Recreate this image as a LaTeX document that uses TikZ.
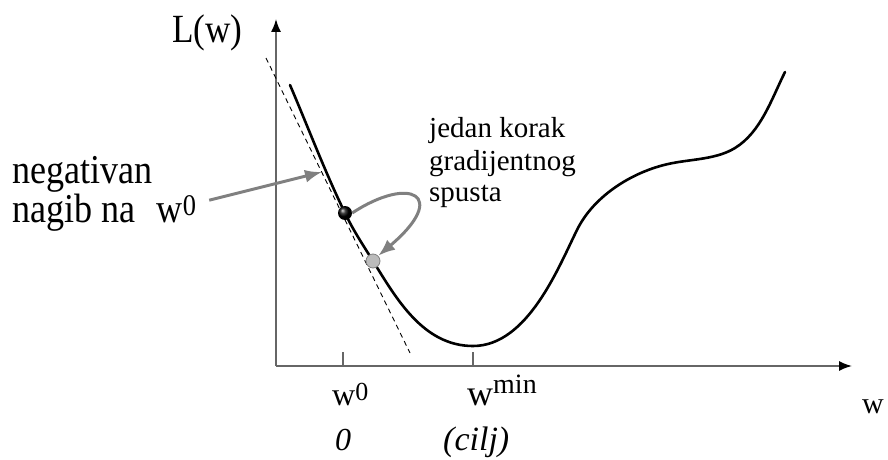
\documentclass[tikz,border=0pt]{standalone}
\usepackage{fontspec}
\setmainfont{Liberation Serif}
\newfontfamily\narrowserif{Liberation Serif}[FakeStretch=0.88]
\usepackage{xcolor}
\definecolor{gdaxis}{HTML}{666666}
\definecolor{gdarrow}{HTML}{808080}
\definecolor{gdstep}{HTML}{BBBBBB}
\usepackage{tikz}
\usetikzlibrary{arrows.meta,positioning,calc,shadings}
\tikzset{
  gdaxisline/.style={draw=gdaxis,line width=1.6pt,-{Latex[length=13pt,width=10pt,color=black]}},
  gdtick/.style={draw=gdaxis,line width=1.4pt},
  gdcurve/.style={line width=2.6pt,line cap=round},
  gdtangent/.style={line width=0.9pt,dash pattern=on 5pt off 4pt},
  gdpointer/.style={draw=gdarrow,line width=3pt,-{Latex[length=17pt,width=13pt]}},
  gdtext/.style={inner sep=0pt,anchor=base west},
  gdbig/.style={gdtext,font=\narrowserif\fontsize{41pt}{41pt}\selectfont},
  gdnote/.style={gdtext,font=\fontsize{29pt}{31pt}\selectfont},
}
\newcommand{\gdsup}[3]{\raisebox{#1}{\fontsize{#2}{#2}\selectfont #3}}

\begin{document}
\begin{tikzpicture}[x=1pt,y=-1pt]
\useasboundingbox (0,0) rectangle (888,460);
% axes
\coordinate (orig) at (276,366);
\coordinate (ytop) at (276,19);
\coordinate (xend) at (852,366);
\coordinate (t0) at (343,366);
\coordinate (tmin) at (473,366);
\draw[gdaxisline] (orig) -- (ytop);
\draw[gdaxisline] (orig) -- (xend);
\draw[gdtick] (t0) -- ++(0,-14);
\draw[gdtick] (tmin) -- ++(0,-14);
% loss curve and tangent
\draw[gdcurve] (290,85) .. controls (308,127) and (325,172) .. (345,213)
  .. controls (353,230) and (363,245) .. (373,261)
  .. controls (396,298) and (423,346) .. (473,346)
  .. controls (528,346) and (559,266) .. (577,230)
  .. controls (594,195) and (635,170) .. (673,163)
  .. controls (694,159) and (717,159) .. (735,148)
  .. controls (761,132) and (771.5,99) .. (785,72);
\draw[gdtangent] (266,58) -- (410,353);
\node[circle,inner sep=0pt,minimum size=14pt,ball color=black] (w0dot) at (345,213) {};
\node[circle,inner sep=0pt,minimum size=14pt,draw=gdarrow,line width=0.8pt,fill=gdstep] (w1dot) at (373,261) {};
% labels
\node[gdtext,font=\narrowserif\fontsize{40pt}{40pt}\selectfont] (lw) at (172,42) {L(w)};
\node[gdbig] (neg) at (12,183) {negativan};
\node[gdbig] (nagib) at (12,222) {nagib na\hspace{0.3em} w\gdsup{7pt}{30pt}{0}};
\node[gdnote] (korak) at (429,137) {jedan korak};
\node[gdnote] (grad) at (429,170) {gradijentnog};
\node[gdnote] (spust) at (429,201) {spusta};
\node[gdtext,font=\fontsize{32pt}{32pt}\selectfont] (w0lab) at (332,405) {w\gdsup{5pt}{26pt}{0}};
\node[gdtext,font=\fontsize{36pt}{36pt}\selectfont] (wminlab) at (467,405) {w\gdsup{12pt}{28pt}{min}};
\node[gdtext,font=\itshape\fontsize{32pt}{32pt}\selectfont] (zero) at (335,450) {0};
\node[gdtext,font=\itshape\fontsize{34pt}{34pt}\selectfont] (cilj) at (443,450) {(cilj)};
\node[gdtext,font=\fontsize{30pt}{30pt}\selectfont] (waxis) at (862,413) {w};
% pointers
\coordinate (slopept) at (322,172);
\draw[gdpointer] ([xshift=13pt,yshift=12pt]nagib.east) -- (slopept);
\draw[gdpointer] (w0dot.east) .. controls (410,175) and (450,195) .. (w1dot.north east);
\end{tikzpicture}
\end{document}
